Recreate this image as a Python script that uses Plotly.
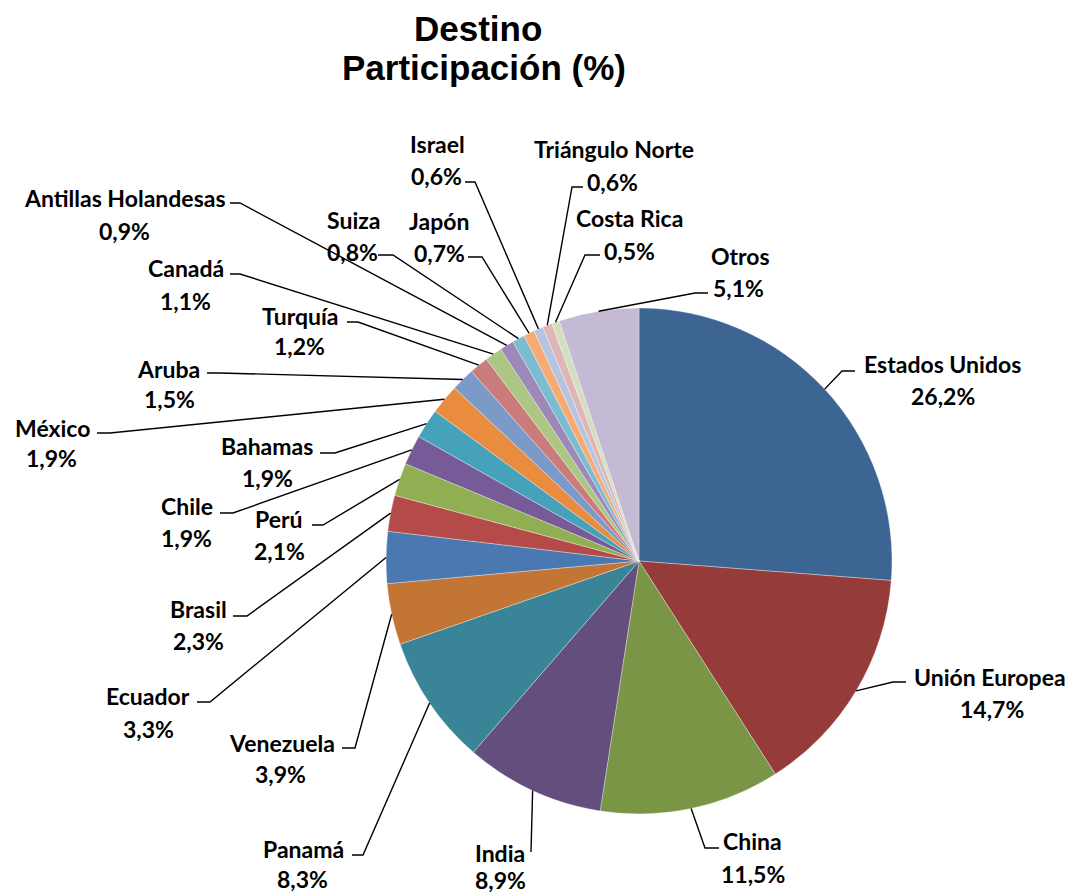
import math
import plotly.graph_objects as go

# ---------------- data ----------------
categories = ["Estados Unidos", "Unión Europea", "China", "India", "Panamá",
              "Venezuela", "Ecuador", "Brasil", "Perú", "Chile", "Bahamas",
              "México", "Aruba", "Turquía", "Canadá", "Antillas Holandesas",
              "Suiza", "Japón", "Israel", "Triángulo Norte", "Costa Rica", "Otros"]
values = [26.2, 14.7, 11.5, 8.9, 8.3, 3.9, 3.3, 2.3, 2.1, 1.9, 1.9,
          1.9, 1.5, 1.2, 1.1, 0.9, 0.8, 0.7, 0.6, 0.6, 0.5, 5.1]

# ---------------- style ----------------
colors = ["#3D6594", "#953B39", "#7B9546", "#644E7E", "#398597",
          "#C27535", "#4A78B1", "#B54B49", "#92AE52", "#775B98", "#46A2BA",
          "#E98C40", "#7C9AC8", "#C97C7A", "#AEC683", "#9C89B7",
          "#7DBCD0", "#F8AA73", "#B5C4DF", "#DEB6B5", "#D2DFC0", "#C4BAD3"]

W, H = 1071, 894
CX, CY, R = 639, 561, 253   # pie centre / radius in pixels (layout)

# label layout (pixels): name centre, value centre, leader end near text, elbow x, leader y
label_layout = {
    "Estados Unidos":      ((942, 363), (943, 395), 855, 842, 371),
    "Unión Europea":       ((990, 676), (992, 708), 906, 893, 682),
    "China":               ((753, 840), (753, 873), 719, 705, 848),
    "India":               ((500, 852), (500, 879), 531, 531, 852),
    "Panamá":              ((303, 848), (302, 878), 352, 363, 855),
    "Venezuela":           ((282, 742), (280, 773), 342, 355, 748),
    "Ecuador":             ((148, 695), (148, 728), 197, 210, 702),
    "Brasil":              ((198, 608), (198, 640), 233, 247, 616),
    "Perú":                ((279, 518), (279, 550), 312, 323, 525),
    "Chile":               ((187, 505), (186, 537), 220, 233, 513),
    "Bahamas":             ((267, 445), (267, 477), 320, 335, 453),
    "México":              ((52, 427), (51, 457), 97, 110, 433),
    "Aruba":               ((168, 368), (169, 398), 207, 220, 373),
    "Turquía":             ((300, 315), (299, 345), 347, 358, 322),
    "Canadá":              ((186, 267), (185, 300), 230, 240, 274),
    "Antillas Holandesas": ((125, 197), (124, 230), 230, 240, 203),
    "Suiza":               ((353, 219), (352, 251), 378, 393, 255),
    "Japón":               ((439, 220), (439, 252), 468, 482, 257),
    "Israel":              ((437, 143), (436, 175), 465, 475, 182),
    "Triángulo Norte":     ((614, 148), (612, 181), 583, 572, 187),
    "Costa Rica":          ((629, 217), (629, 250), 600, 585, 255),
    "Otros":               ((740, 255), (738, 287), 708, 695, 293),
}

LABEL_FONT = dict(family="Lato", size=23, color="#000000", weight="bold")
TEXT_DY = 1


def px(x):
    return x / W


def py(y):
    return 1 - y / H


fig = go.Figure()
fig.add_trace(go.Pie(
    labels=categories, values=values, sort=False, direction="clockwise",
    rotation=0, textinfo="none", hoverinfo="label+percent",
    marker=dict(colors=colors, line=dict(color="rgba(255,255,255,0.55)", width=0.6)),
    domain=dict(x=[px(CX - R), px(CX + R)], y=[py(CY + R), py(CY - R)]),
    showlegend=False,
))

total = sum(values)
cum = 0.0
shapes = []
annotations = []
for name, v in zip(categories, values):
    mid = (cum + v / 2) / total
    cum += v
    ang = 2 * math.pi * mid
    ex_pie = CX + R * math.sin(ang)
    ey_pie = CY - R * math.cos(ang)
    (nx, ny), (vx, vy), hx, elx, ly = label_layout[name]
    path = f"M {px(hx)} {py(ly)} L {px(elx)} {py(ly)} L {px(ex_pie)} {py(ey_pie)}"
    shapes.append(dict(type="path", xref="paper", yref="paper", path=path,
                       line=dict(color="#000000", width=1.4)))
    val_txt = f"{v:.1f}".replace(".", ",") + "%"
    annotations.append(dict(x=px(nx), y=py(ny + TEXT_DY), xref="paper", yref="paper",
                            text=name, showarrow=False, xanchor="center", yanchor="middle",
                            font=LABEL_FONT))
    annotations.append(dict(x=px(vx), y=py(vy + TEXT_DY), xref="paper", yref="paper",
                            text=val_txt, showarrow=False, xanchor="center", yanchor="middle",
                            font=LABEL_FONT))

TITLE_FONT = dict(family="Liberation Sans", size=35, color="#000000", weight="bold")
annotations.append(dict(x=px(478), y=py(28), xref="paper", yref="paper", text="Destino",
                        showarrow=False, xanchor="center", yanchor="middle", font=TITLE_FONT))
annotations.append(dict(x=px(484), y=py(67), xref="paper", yref="paper",
                        text="Participación (%)", showarrow=False, xanchor="center",
                        yanchor="middle", font=TITLE_FONT))

fig.update_layout(
    width=W, height=H, autosize=False,
    margin=dict(l=0, r=0, t=0, b=0),
    paper_bgcolor="#FFFFFF", plot_bgcolor="#FFFFFF",
    shapes=shapes, annotations=annotations,
)

fig.write_html("out.html", config={"displayModeBar": False},
               post_script="document.body.style.margin='0';document.body.style.overflow='hidden';")
